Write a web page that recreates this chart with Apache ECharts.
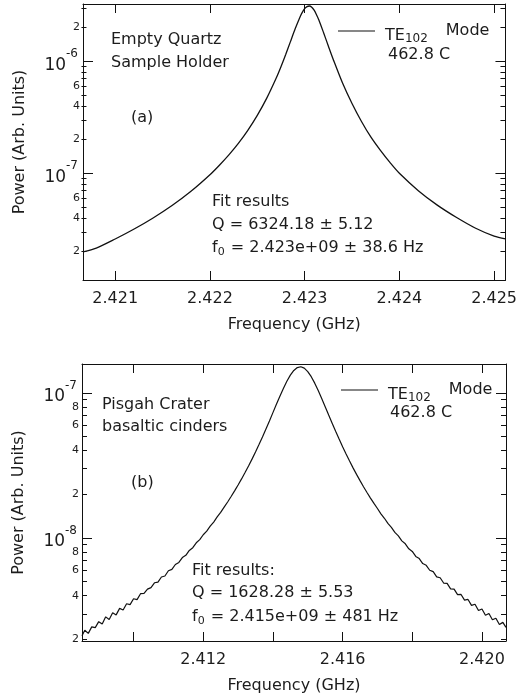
<!DOCTYPE html>
<html>
<head>
<meta charset="utf-8">
<script src="https://cdn.jsdelivr.net/npm/echarts@6/dist/echarts.min.js"></script>
<style>html,body{margin:0;padding:0;background:#fff}#c{width:520px;height:696px}</style>
</head>
<body>
<div id="c"></div>
<script>
// ---------- Panel (a): empty quartz sample holder ----------
const freqA = [2.42066, 2.4208, 2.4210, 2.4212, 2.4214, 2.4216, 2.4218, 2.4220, 2.4221, 2.4222,
  2.4223, 2.4224, 2.4225, 2.4226, 2.4227, 2.42275, 2.4228, 2.42285, 2.4229, 2.42295,
  2.422975, 2.4230, 2.423025, 2.42305, 2.423075, 2.4231, 2.423125, 2.42315, 2.4232, 2.42325,
  2.4233, 2.4234, 2.4235, 2.4236, 2.4237, 2.4238, 2.4239, 2.4240, 2.4242, 2.4244,
  2.4246, 2.4248, 2.4250, 2.42512];
const powerA = [1.99e-8, 2.15e-8, 2.59e-8, 3.18e-8, 3.99e-8, 5.15e-8, 6.9e-8, 9.7e-8, 1.18e-7, 1.46e-7,
  1.85e-7, 2.42e-7, 3.29e-7, 4.69e-7, 7.09e-7, 8.95e-7, 1.15e-6, 1.50e-6, 1.95e-6, 2.48e-6,
  2.735e-6, 2.95e-6, 3.08e-6, 3.12e-6, 3.04e-6, 2.86e-6, 2.61e-6, 2.34e-6, 1.80e-6, 1.37e-6,
  1.05e-6, 6.4e-7, 4.2e-7, 2.9e-7, 2.1e-7, 1.6e-7, 1.25e-7, 1.0e-7, 7.0e-8, 5.2e-8,
  4.05e-8, 3.25e-8, 2.75e-8, 2.6e-8];
const xLabelStepA = 1;          // label every 0.001 GHz tick
const yMinorA = [2e-8, 3e-8, 4e-8, 5e-8, 6e-8, 7e-8, 8e-8, 9e-8, 2e-7, 3e-7, 4e-7, 5e-7, 6e-7, 7e-7, 8e-7, 9e-7, 2e-6, 3e-6];
const yMinorLabelsA = [2e-8, 4e-8, 6e-8, 2e-7, 4e-7, 6e-7, 2e-6];

// ---------- Panel (b): Pisgah Crater basaltic cinders ----------
const freqB = [2.40852,
  2.4086, 2.4087, 2.4088, 2.4089, 2.4090, 2.4091, 2.4092, 2.4093, 2.4094, 2.4095,
  2.4096, 2.4097, 2.4098, 2.4099, 2.4100, 2.4101, 2.4102, 2.4103, 2.4104, 2.4105,
  2.4106, 2.4107, 2.4108, 2.4109, 2.4110, 2.4111, 2.4112, 2.4113, 2.4114, 2.4115,
  2.4116, 2.4117, 2.4118, 2.4119, 2.4120, 2.4121, 2.4122, 2.4123, 2.4124, 2.4125,
  2.4126, 2.4127, 2.4128, 2.4129, 2.4130, 2.4131, 2.4132, 2.4133, 2.4134, 2.4135,
  2.4136, 2.4137, 2.4138, 2.4139, 2.4140, 2.4141, 2.4142, 2.4143, 2.4144, 2.4145,
  2.4146, 2.4147, 2.4148, 2.4149, 2.4150, 2.4151, 2.4152, 2.4153, 2.4154, 2.4155,
  2.4156, 2.4157, 2.4158, 2.4159, 2.4160, 2.4161, 2.4162, 2.4163, 2.4164, 2.4165,
  2.4166, 2.4167, 2.4168, 2.4169, 2.4170, 2.4171, 2.4172, 2.4173, 2.4174, 2.4175,
  2.4176, 2.4177, 2.4178, 2.4179, 2.4180, 2.4181, 2.4182, 2.4183, 2.4184, 2.4185,
  2.4186, 2.4187, 2.4188, 2.4189, 2.4190, 2.4191, 2.4192, 2.4193, 2.4194, 2.4195,
  2.4196, 2.4197, 2.4198, 2.4199, 2.4200, 2.4201, 2.4202, 2.4203, 2.4204, 2.4205,
  2.4206, 2.42069];
const powerB = [2.12e-9,
  2.31e-9, 2.20e-9, 2.44e-9, 2.41e-9, 2.65e-9, 2.55e-9, 2.86e-9, 2.74e-9, 3.05e-9, 2.95e-9,
  3.27e-9, 3.19e-9, 3.52e-9, 3.47e-9, 3.81e-9, 3.76e-9, 4.13e-9, 4.15e-9, 4.44e-9, 4.55e-9,
  4.91e-9, 4.96e-9, 5.38e-9, 5.47e-9, 5.94e-9, 6.07e-9, 6.56e-9, 6.78e-9, 7.32e-9, 7.59e-9,
  8.20e-9, 8.57e-9, 9.26e-9, 9.73e-9, 1.052e-8, 1.114e-8, 1.205e-8, 1.286e-8, 1.395e-8, 1.499e-8,
  1.628e-8, 1.769e-8, 1.928e-8, 2.109e-8, 2.315e-8, 2.550e-8, 2.820e-8, 3.131e-8, 3.490e-8, 3.909e-8,
  4.395e-8, 4.964e-8, 5.627e-8, 6.399e-8, 7.297e-8, 8.32e-8, 9.47e-8, 1.071e-7, 1.200e-7, 1.322e-7,
  1.425e-7, 1.491e-7, 1.51e-7, 1.477e-7, 1.399e-7, 1.29e-7, 1.165e-7, 1.036e-7, 9.14e-8, 8.02e-8,
  7.03e-8, 6.17e-8, 5.43e-8, 4.80e-8, 4.25e-8, 3.785e-8, 3.384e-8, 3.038e-8, 2.740e-8, 2.481e-8,
  2.254e-8, 2.056e-8, 1.882e-8, 1.728e-8, 1.595e-8, 1.466e-8, 1.366e-8, 1.259e-8, 1.183e-8, 1.092e-8,
  1.033e-8, 9.55e-9, 9.11e-9, 8.41e-9, 8.07e-9, 7.46e-9, 7.21e-9, 6.66e-9, 6.48e-9, 5.99e-9,
  5.86e-9, 5.39e-9, 5.32e-9, 4.89e-9, 4.86e-9, 4.46e-9, 4.44e-9, 4.07e-9, 4.08e-9, 3.73e-9,
  3.77e-9, 3.43e-9, 3.49e-9, 3.16e-9, 3.24e-9, 2.93e-9, 3.02e-9, 2.73e-9, 2.80e-9, 2.53e-9,
  2.62e-9, 2.42e-9];
const xLabelStepB = 4;          // label every 0.004 GHz (ticks every 0.002)
const yMinorB = [2e-9, 3e-9, 4e-9, 5e-9, 6e-9, 7e-9, 8e-9, 9e-9, 2e-8, 3e-8, 4e-8, 5e-8, 6e-8, 7e-8, 8e-8, 9e-8];
const yMinorLabelsB = [2e-9, 4e-9, 6e-9, 8e-9, 2e-8, 4e-8, 6e-8, 8e-8];

const seriesName = 'TE102 Mode';

// ---------- styling ----------
const FONT = '"DejaVu Sans", Verdana, sans-serif';
const INK = '#1c1c1c';
const AX = '#111';
const PLOT_W = 424;

function zip(xs, ys) { return xs.map((x, i) => [x, ys[i]]); }
function mantissa(v) { const e = Math.floor(Math.log10(v) + 1e-9); return String(Math.round(v / Math.pow(10, e))); }
function expLabel(v) {
  const l = Math.log10(v);
  return Math.abs(l - Math.round(l)) < 1e-6 ? '{b|10}{s|' + Math.round(l) + '}' : '';
}
function freqLabel(step) {
  return v => {
    const m = v * 1000, r = Math.round(m);
    return (Math.abs(m - r) < 1e-6 && r % step === 0) ? v.toFixed(3) : '';
  };
}

const noLabel = { show: false };
function line(show) { return { show: show, onZero: false, lineStyle: { color: AX, width: 1 } }; }
function nativeTick(len) { return { show: true, inside: true, length: len, lineStyle: { color: AX, width: 1 } }; }
function customTick(len, values, inside) { return { show: true, inside: inside, length: len, customValues: values, lineStyle: { color: AX, width: 1 } }; }

// x axes: [0] bottom ticks + labels + title, [1] top ticks
function xAxes(grid, min, max, step) {
  const base = { type: 'value', gridIndex: grid, min: min, max: max, splitLine: { show: false } };
  return [
    Object.assign({}, base, { position: 'bottom', axisLine: line(true), axisTick: nativeTick(9),
      axisLabel: { show: true, formatter: freqLabel(step), margin: 11, fontSize: 16, fontFamily: FONT, color: INK },
      name: 'Frequency (GHz)', nameLocation: 'middle', nameGap: 37,
      nameTextStyle: { fontSize: 16, fontFamily: FONT, color: INK } }),
    Object.assign({}, base, { position: 'top', axisLine: line(true), axisTick: nativeTick(9), axisLabel: noLabel })
  ];
}

// y axes: [0] left decade ticks + labels + title, [1] mantissa labels,
//         [2] right decade ticks, [3] right minor ticks, [4] minor ticks on the left edge
function yAxes(grid, min, max, minor, minorLabels) {
  const base = { type: 'log', logBase: 10, gridIndex: grid, min: min, max: max, splitLine: { show: false } };
  return [
    Object.assign({}, base, { position: 'left', axisLine: line(true), axisTick: nativeTick(10),
      axisLabel: { show: true, formatter: expLabel, margin: 5, color: INK,
        rich: { b: { fontSize: 17, fontFamily: FONT, color: INK, padding: [8, 0, 0, 0] },
                s: { fontSize: 12, fontFamily: FONT, color: INK, padding: [0, 0, 14, 0] } } },
      name: 'Power (Arb. Units)', nameLocation: 'middle', nameGap: 55,
      nameTextStyle: { fontSize: 16, fontFamily: FONT, color: INK } }),
    Object.assign({}, base, { position: 'left', axisLine: line(false), axisTick: { show: false },
      axisLabel: { show: true, customValues: minorLabels, formatter: mantissa, margin: 3,
        fontSize: 11, fontFamily: FONT, color: INK } }),
    Object.assign({}, base, { position: 'right', axisLine: line(true), axisTick: nativeTick(10), axisLabel: noLabel }),
    Object.assign({}, base, { position: 'right', axisLine: line(false), axisTick: customTick(5, minor, true), axisLabel: noLabel }),
    Object.assign({}, base, { position: 'right', offset: -PLOT_W, axisLine: line(false), axisTick: customTick(5, minor, false), axisLabel: noLabel })
  ];
}

function legendFor(left, top) {
  return { left: left, top: top, padding: 0, orient: 'horizontal', data: [seriesName],
    icon: 'rect', itemWidth: 37, itemHeight: 1, itemStyle: { color: '#111' },
    formatter: () => '{t|TE}{s|102}{m|Mode}',
    textStyle: { color: INK, padding: [0, 0, 0, 5],
      rich: { t: { fontSize: 16, fontFamily: FONT, color: INK, padding: [10, 0, 0, 0] },
              s: { fontSize: 12, fontFamily: FONT, color: INK, padding: [15, 0, 0, 0] },
              m: { fontSize: 16, fontFamily: FONT, color: INK, padding: [0, 0, 0, 18] } } } };
}

function txt(x, y, s) {
  return { type: 'text', x: x, y: y, silent: true,
    style: { text: s, fill: INK, font: '16px ' + FONT, verticalAlign: 'middle', align: 'left' } };
}
function ftxt(x, y, rest) {
  return { type: 'text', x: x, y: y, silent: true,
    style: { text: '{a|f}{b|0}{a|' + rest + '}', fill: INK, verticalAlign: 'middle', align: 'left',
      rich: { a: { fontSize: 16, fontFamily: FONT, fill: INK },
              b: { fontSize: 11, fontFamily: FONT, fill: INK, padding: [9, 1, 0, 0] } } } };
}

const chart = echarts.init(document.getElementById('c'), null, { renderer: 'canvas' });
chart.setOption({
  animation: false,
  backgroundColor: '#fff',
  grid: [
    { left: 83, top: 4, width: PLOT_W, height: 276 },
    { left: 82, top: 364, width: PLOT_W, height: 277 }
  ],
  xAxis: [].concat(
    xAxes(0, 2.42066, 2.42512, xLabelStepA),
    xAxes(1, 2.40852, 2.42069, xLabelStepB)
  ),
  yAxis: [].concat(
    yAxes(0, 1.115e-8, 3.25e-6, yMinorA, yMinorLabelsA),
    yAxes(1, 1.95e-9, 1.578e-7, yMinorB, yMinorLabelsB)
  ),
  legend: [legendFor(338, 23), legendFor(341, 382)],
  series: [
    { name: seriesName, type: 'line', xAxisIndex: 0, yAxisIndex: 0, data: zip(freqA, powerA),
      showSymbol: false, smooth: 0.3, lineStyle: { color: '#111', width: 1.3 }, itemStyle: { color: '#111' } },
    { name: seriesName, type: 'line', xAxisIndex: 2, yAxisIndex: 5, data: zip(freqB, powerB),
      showSymbol: false, lineStyle: { color: '#111', width: 1.2 }, itemStyle: { color: '#111' } }
  ],
  graphic: [
    txt(111, 40, 'Empty Quartz'),
    txt(111, 63, 'Sample Holder'),
    txt(131, 118, '(a)'),
    txt(212, 202, 'Fit results'),
    txt(212, 225, 'Q = 6324.18 ± 5.12'),
    ftxt(212, 248, ' = 2.423e+09 ± 38.6 Hz'),
    txt(388, 55, '462.8 C'),
    txt(102, 405, 'Pisgah Crater'),
    txt(102, 427, 'basaltic cinders'),
    txt(131, 483, '(b)'),
    txt(192, 571, 'Fit results:'),
    txt(192, 593, 'Q = 1628.28 ± 5.53'),
    ftxt(192, 617, ' = 2.415e+09 ± 481 Hz'),
    txt(390, 413, '462.8 C')
  ]
});
</script>
</body>
</html>
